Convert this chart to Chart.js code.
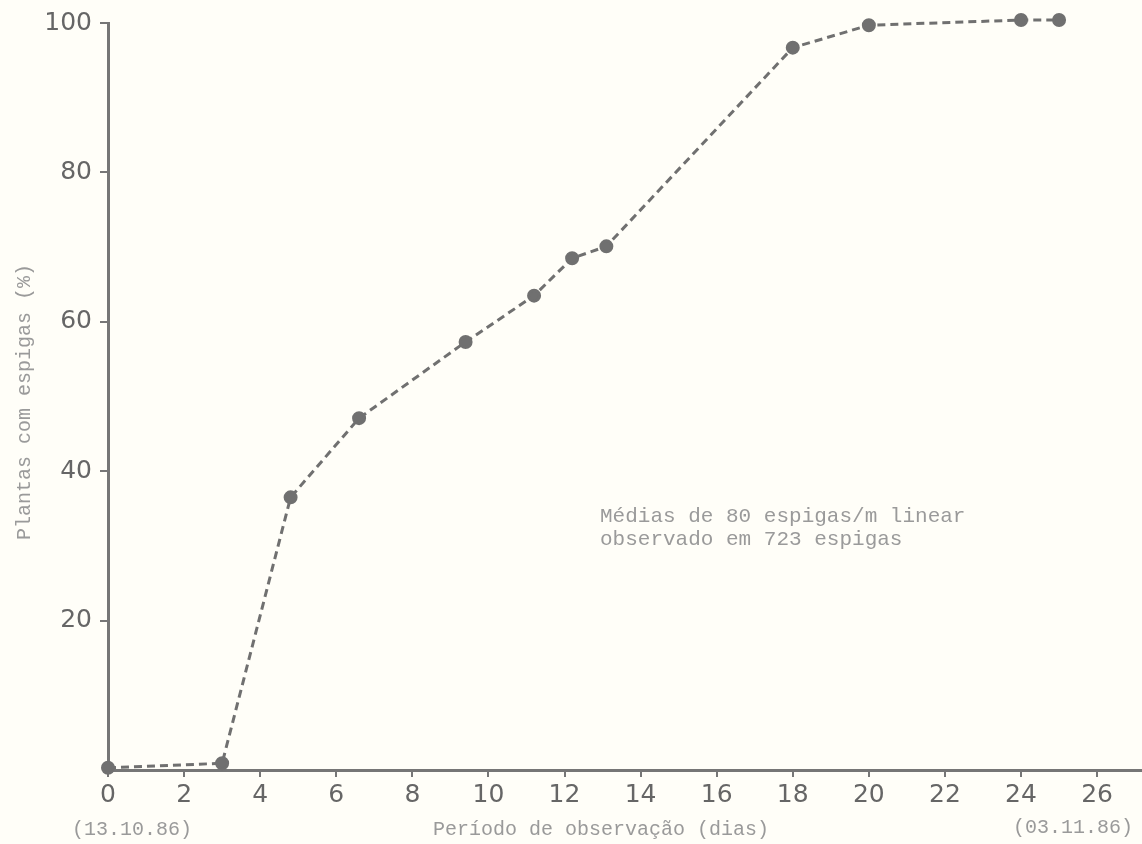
<!DOCTYPE html>
<html>
<head>
<meta charset="utf-8">
<script src="https://cdn.jsdelivr.net/npm/chart.js@4/dist/chart.umd.min.js"></script>
<style>
  html, body { margin: 0; padding: 0; background: #fffef8; }
  #wrap { width: 1142px; height: 844px; }
</style>
</head>
<body>
<div id="wrap"><canvas id="c" width="1142" height="844"></canvas></div>
<script>
// Data
const days = [0, 3, 4.8, 6.6, 9.4, 11.2, 12.2, 13.1, 18, 20, 24, 25];
const plantsPct = [0.3, 0.9, 36.5, 47.1, 57.3, 63.5, 68.5, 70.1, 96.7, 99.7, 100.4, 100.4];
const xTickValues = [0, 2, 4, 6, 8, 10, 12, 14, 16, 18, 20, 22, 24, 26];
const yTickValues = [20, 40, 60, 80, 100];
const yTitle = 'Plantas com espigas (%)';
const xTitle = 'Período de observação (dias)';
const startDate = '(13.10.86)';
const endDate = '(03.11.86)';
const noteLines = ['Médias de 80 espigas/m linear', 'observado em 723 espigas'];

const axisColor = '#767676';
const lineColor = '#707070';
const tickFont = { family: 'DejaVu Sans', size: 25 };
const monoFont = 'Liberation Mono';

const textPlugin = {
  id: 'texts',
  beforeDraw(chart) {
    const ctx = chart.ctx;
    ctx.save();
    ctx.fillStyle = '#fffef8';
    ctx.fillRect(0, 0, chart.width, chart.height);
    ctx.restore();
  },
  afterDraw(chart) {
    const ctx = chart.ctx;
    ctx.save();
    ctx.fillStyle = '#9a9a9a';
    ctx.font = '20px "' + monoFont + '"';
    ctx.textBaseline = 'alphabetic';
    ctx.textAlign = 'left';
    ctx.fillText(xTitle, 433, 835);
    ctx.fillText(startDate, 72, 835);
    ctx.fillText(endDate, 1013, 833);
    ctx.font = '21px "' + monoFont + '"';
    ctx.fillText(noteLines[0], 600, 522);
    ctx.fillText(noteLines[1], 600, 545);
    ctx.font = '20px "' + monoFont + '"';
    ctx.translate(30, 402);
    ctx.rotate(-Math.PI / 2);
    ctx.textAlign = 'center';
    ctx.fillText(yTitle, 0, 0);
    ctx.restore();
  }
};

new Chart(document.getElementById('c'), {
  type: 'scatter',
  data: {
    datasets: [{
      data: days.map((d, i) => ({ x: d, y: plantsPct[i] })),
      showLine: true,
      borderColor: lineColor,
      borderWidth: 3,
      borderDash: [8, 5],
      pointBackgroundColor: lineColor,
      pointBorderColor: lineColor,
      pointRadius: 5.5,
      pointHoverRadius: 5.5,
      clip: false,
      tension: 0
    }]
  },
  options: {
    responsive: false,
    animation: false,
    events: [],
    layout: { autoPadding: false, padding: { top: 22, right: 0, left: 0, bottom: 0 } },
    plugins: { legend: { display: false }, tooltip: { enabled: false } },
    scales: {
      x: {
        type: 'linear',
        min: 0,
        max: 27.18,
        afterBuildTicks(scale) { scale.ticks = xTickValues.map(v => ({ value: v })); },
        afterFit(scale) { scale.height = 74; },
        border: { display: true, color: axisColor, width: 3 },
        grid: { drawOnChartArea: false, drawTicks: true, tickLength: 7, color: axisColor, lineWidth: 2 },
        ticks: { color: '#666', font: tickFont, padding: 3, maxRotation: 0, autoSkip: false }
      },
      y: {
        type: 'linear',
        min: 0,
        max: 100,
        afterBuildTicks(scale) { scale.ticks = yTickValues.map(v => ({ value: v })); },
        afterFit(scale) { scale.width = 108; },
        border: { display: true, color: axisColor, width: 3 },
        grid: { drawOnChartArea: false, drawTicks: true, tickLength: 8, color: axisColor, lineWidth: 2 },
        ticks: { color: '#666', font: tickFont, padding: 8, autoSkip: false }
      }
    }
  },
  plugins: [textPlugin]
});
</script>
</body>
</html>
